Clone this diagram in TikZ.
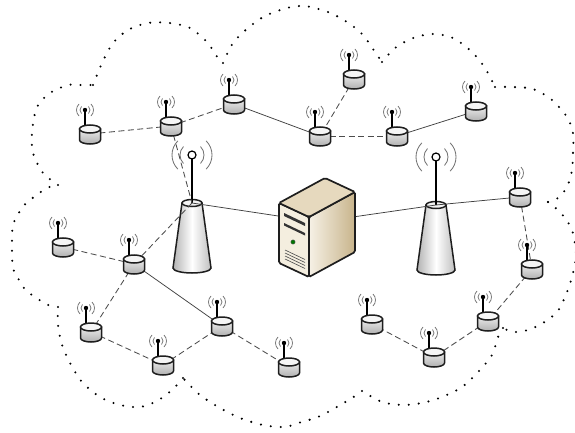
\documentclass[tikz,border=0pt]{standalone}
\usepackage{tikz}
\usetikzlibrary{positioning}

\definecolor{edge}{HTML}{1E1E1E}
\definecolor{srvfront}{HTML}{F4EEDF}
\definecolor{srvsidelt}{HTML}{F6F1E6}
\definecolor{srvside}{HTML}{C8B48B}
\definecolor{srvtop}{HTML}{E6D9BE}

\tikzset{
  wired/.style={line width=0.75pt, draw=black!75},
  wireless/.style={line width=0.85pt, draw=black!70, dash pattern=on 6pt off 3.5pt},
  cloudline/.style={line width=2.3pt, line cap=round, dash pattern=on 0pt off 10pt},
  wave/.style={line width=0.75pt, draw=black!55},
  outline/.style={line width=1.5pt, draw=edge},
  % small sensor mote with its antenna
  sensor/.pic={
    \foreach \r in {5,8.5}{
      \draw[wave] (-5,-24) ++(45:\r) arc (45:-45:\r);
      \draw[wave] (-5,-24) ++(135:\r) arc (135:225:\r);
    }
    \draw[line width=1.4pt] (-5,-6) -- (-5,-23);
    \fill (-5,-24) circle (2.2);
    \draw[outline, top color=gray!15, bottom color=gray!62]
      (-10.5,-5) -- (-10.5,6) arc (180:0:10.5 and 4) -- (10.5,-5) -- cycle;
    \draw[outline, fill=gray!8] (0,-5) ellipse (10.5 and 4);
  },
  % base station mast
  tower/.pic={
    \foreach \r in {12,20}{
      \draw[wave, line width=0.85pt] (0,-48) ++(45:\r) arc (45:-45:\r);
      \draw[wave, line width=0.85pt] (0,-48) ++(135:\r) arc (135:225:\r);
    }
    \draw[outline, left color=gray!60, right color=gray!50, middle color=white]
      (-10,0) -- (-19,65) arc (180:0:19 and 5) -- (10,0) -- cycle;
    \draw[outline, fill=gray!10] (0,0) ellipse (10 and 3.5);
    \draw[line width=1.3pt] (0,0) -- (0,-44);
    \draw[line width=1.2pt, fill=white] (0,-48) circle (4);
  }
}

\begin{document}
\begin{tikzpicture}[x=1pt, y=-1pt]
  \useasboundingbox (0,0) rectangle (575,433);

  % cloud border, one lobe at a time
  \draw[cloudline] plot[smooth] coordinates {(58,185) (43,173) (33,153) (32,132) (37,107) (50,93) (68,85) (80,85) (93,85)};
  \draw[cloudline] plot[smooth] coordinates {(93,85) (102,63) (113,43) (128,30) (148,23) (170,23) (190,28) (207,42) (218,58) (223,63)};
  \draw[cloudline] plot[smooth] coordinates {(223,63) (233,43) (248,28) (265,16) (287,8) (305,6) (328,12) (347,22) (363,35) (375,52) (382,62)};
  \draw[cloudline] plot[smooth] coordinates {(382,62) (395,48) (413,38) (433,34) (453,38) (472,52) (485,68) (495,87)};
  \draw[cloudline] plot[smooth] coordinates {(495,87) (512,87) (533,89) (552,100) (567,117) (573,133) (573,153) (572,170) (567,187) (558,198) (548,202)};
  \draw[cloudline] plot[smooth] coordinates {(548,202) (561,213) (572,230) (576,255) (572,277) (565,297) (557,312) (543,323) (528,330) (513,332) (503,328)};
  \draw[cloudline] plot[smooth] coordinates {(503,328) (498,337) (492,355) (478,372) (462,387) (442,397) (422,403) (402,405) (382,402) (362,391)};
  \draw[cloudline] plot[smooth] coordinates {(362,391) (352,398) (335,408) (318,417) (298,423) (285,427) (263,425) (240,418) (220,408) (200,395) (183,378)};
  \draw[cloudline] plot[smooth] coordinates {(183,378) (172,390) (157,401) (140,407) (120,405) (100,397) (82,382) (70,363) (62,345) (58,325) (58,307)};
  \draw[cloudline] plot[smooth] coordinates {(58,307) (48,305) (32,295) (23,287) (18,278) (13,268) (12,248) (13,225) (22,208) (30,200) (47,188) (58,185)};

  % node positions
  \coordinate (s1) at (90,134);
  \coordinate (s2) at (171,126);
  \coordinate (s3) at (234,104);
  \coordinate (s4) at (354,79);
  \coordinate (s5) at (320,136);
  \coordinate (s6) at (397,136);
  \coordinate (s7) at (476,111);
  \coordinate (s8) at (520,197);
  \coordinate (s9) at (532,269);
  \coordinate (s10) at (488,321);
  \coordinate (s11) at (434,357);
  \coordinate (s12) at (372,324);
  \coordinate (s13) at (63,247);
  \coordinate (s14) at (134,264);
  \coordinate (s15) at (91,332);
  \coordinate (s16) at (163,365);
  \coordinate (s17) at (222,326);
  \coordinate (s18) at (289,367);
  \coordinate (t1) at (192,203);
  \coordinate (t2) at (436,205);
  \coordinate (srv) at (318,222);

  % base stations
  \pic at (t1) {tower};
  \pic at (t2) {tower};

  % links
  \draw[wired] (t1) -- (srv);
  \draw[wired] (srv) -- (t2);
  \draw[wired] (t2) -- (s8);
  \draw[wired] (s3) -- (s5);
  \draw[wired] (s6) -- (s7);
  \draw[wired] (s14) -- (s17);
  \draw[wireless] (s1) -- (s2);
  \draw[wireless] (s2) -- (s3);
  \draw[wireless] (s2) -- (t1);
  \draw[wireless] (s4) -- (s5);
  \draw[wireless] (s5) -- (s6);
  \draw[wireless] (s8) -- (s9);
  \draw[wireless] (s9) -- (s10);
  \draw[wireless] (s10) -- (s11);
  \draw[wireless] (s11) -- (s12);
  \draw[wireless] (t1) -- (s14);
  \draw[wireless] (s13) -- (s14);
  \draw[wireless] (s14) -- (s15);
  \draw[wireless] (s15) -- (s16);
  \draw[wireless] (s16) -- (s17);
  \draw[wireless] (s17) -- (s18);

  % sensor motes
  \foreach \i in {1,...,18}
    \pic at (s\i) {sensor};

  % server cabinet
  \draw[outline, line width=1.7pt, fill=srvfront, rounded corners=1.5pt]
    (279,203) -- (309,217) -- (309,277) -- (279,263) -- cycle;
  \draw[outline, line width=1.7pt, left color=srvsidelt, right color=srvside, rounded corners=1.5pt]
    (309,217) -- (355,192) -- (355,252) -- (309,277) -- cycle;
  \draw[outline, line width=1.7pt, fill=srvtop, rounded corners=1.5pt]
    (279,203) -- (325,178) -- (355,192) -- (309,217) -- cycle;
  % drive bays, power led and vent
  \fill[black!80] (284,213) -- (305,223) -- (305,226) -- (284,216) -- cycle;
  \fill[black!80] (284,223) -- (305,233) -- (305,235.5) -- (284,225.5) -- cycle;
  \draw[fill=green!45!black, draw=black!60] (293,242) circle (2.2);
  \foreach \i in {0,...,3}
    \draw[black!70, line width=0.6pt] (285,250+3*\i) -- (305,259.5+3*\i);
\end{tikzpicture}
\end{document}
